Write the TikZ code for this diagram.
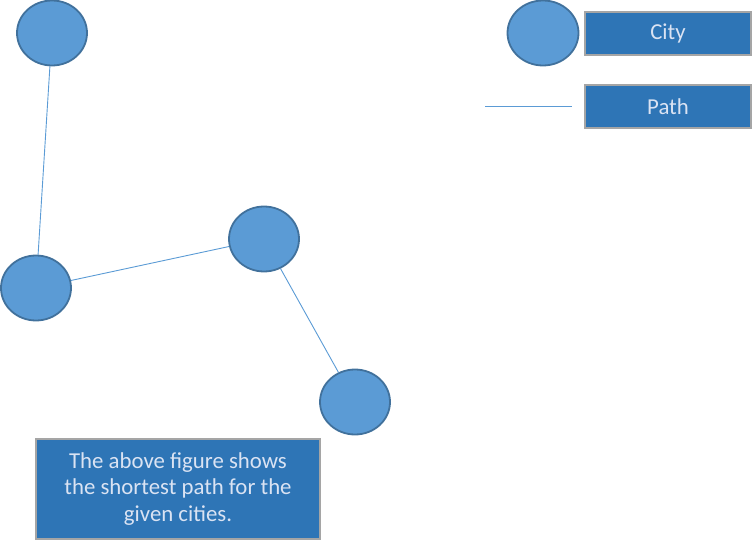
\documentclass[tikz,border=0pt]{standalone}
\usepackage{fontspec}
\setmainfont{Carlito}
\usetikzlibrary{shapes.geometric}
\definecolor{cityfill}{HTML}{5B9BD5}
\definecolor{cityline}{HTML}{41719C}
\definecolor{boxfill}{HTML}{2E75B6}
\definecolor{boxline}{HTML}{A5A5A5}
\definecolor{boxtext}{HTML}{DAE3F3}
\definecolor{pathcol}{HTML}{5B9BD5}
\tikzset{
  city/.style={ellipse, draw=cityline, fill=cityfill, line width=1.8pt, minimum width=70pt, minimum height=65pt, inner sep=0pt},
  labelbox/.style={rectangle, draw=boxline, fill=boxfill, line width=2.2pt, text=boxtext, font=\fontsize{22.8}{26.8}\selectfont, inner sep=0pt, align=center},
  pathline/.style={draw=pathcol, line width=0.9pt}
}
\begin{document}
\begin{tikzpicture}[x=1pt,y=-1pt]
\useasboundingbox (0,0) rectangle (752,545);
\node[city] (a) at (52,33) {};
\node[city] (b) at (36,288) {};
\node[city] (c) at (264,239) {};
\node[city] (d) at (355,402) {};
\node[city, minimum width=71pt] (lc) at (543,33) {};
\node[labelbox, minimum width=166pt, minimum height=43pt] (lcity) at (668,33.5) {City};
\node[labelbox, minimum width=166pt, minimum height=43pt] (lpath) at (668,106.5) {Path};
\coordinate (l1) at (485,106);
\coordinate (l2) at (572,106);
\node[labelbox, minimum width=284pt, minimum height=100pt] (note) at (178,489) {The above figure shows\\the shortest path for the\\given cities.};
\draw[pathline] (a) -- (b);
\draw[pathline] (b) -- (c);
\draw[pathline] (c) -- (d);
\draw[pathline] (l1) -- (l2);
\end{tikzpicture}
\end{document}
